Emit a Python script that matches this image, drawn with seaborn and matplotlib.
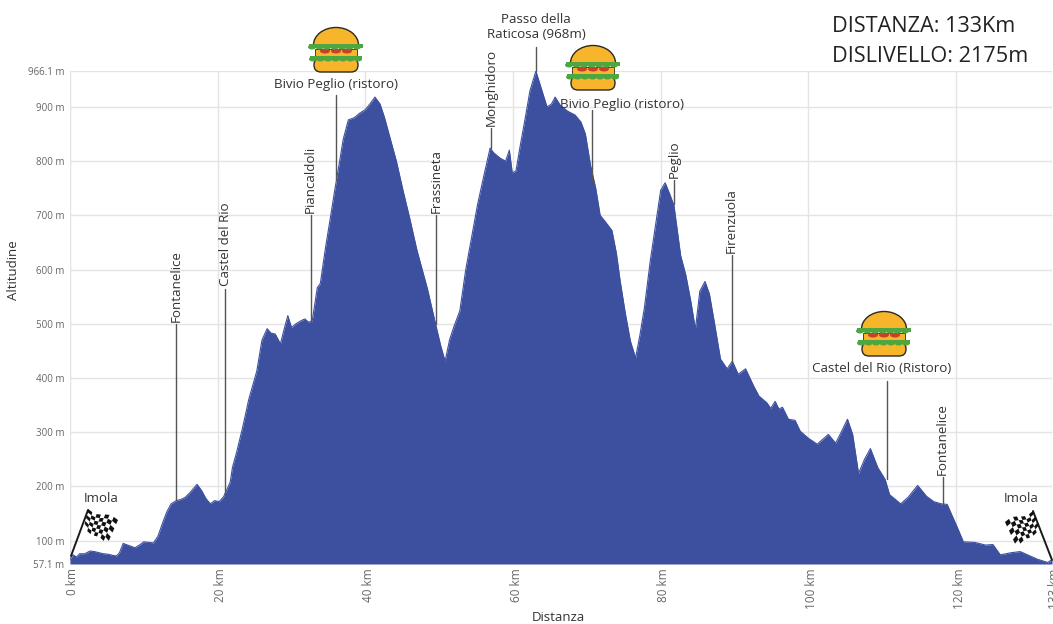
import numpy as np
import pandas as pd
import seaborn as sns
import matplotlib.pyplot as plt
from matplotlib.patches import Ellipse, Polygon, Rectangle, FancyBboxPatch
from matplotlib.transforms import ScaledTranslation

# profilo altimetrico, 10 valori per riga
km = [0, 0.4, 0.9, 1.3, 2, 2.7, 3.3, 3.9, 4.5, 5.2,
      5.8, 6.3, 6.7, 7.2, 7.8, 8.8, 9.4, 10, 10.6, 11.3,
      11.9, 12.6, 13.1, 13.7, 14.4, 15, 15.6, 16.2, 16.7, 17.2,
      17.8, 18.4, 19, 19.6, 20.2, 20.8, 21.7, 22, 22.6, 23.4,
      24.2, 25.3, 26, 26.7, 27.2, 27.8, 28.5, 29, 29.5, 30,
      30.6, 31.2, 31.8, 32.3, 32.8, 33.2, 33.5, 33.9, 34.6, 35.2,
      35.9, 36.4, 37, 37.7, 38.5, 39.2, 40, 40.6, 41.3, 42,
      42.6, 43.2, 44.2, 45.1, 46, 47, 48.4, 49.5, 50.2, 50.8,
      51.4, 52, 52.8, 53.6, 54.4, 55.2, 56, 56.9, 57.4, 58.3,
      59, 59.5, 59.9, 60.4, 61, 61.6, 62.3, 63.1, 63.8, 64.6,
      65.2, 65.7, 66.4, 67.4, 68.4, 69.2, 69.8, 70.5, 71.2, 71.8,
      72.4, 73.4, 74, 74.5, 75.2, 75.9, 76.6, 77.2, 77.8, 78.6,
      79.4, 80, 80.6, 81.2, 81.8, 82.7, 83.4, 84.1, 84.7, 85.3,
      86, 86.6, 87.3, 88.1, 89, 89.7, 90.5, 91.5, 92.6, 93.3,
      94.4, 94.9, 95.5, 96, 96.5, 97.3, 98.2, 98.9, 100, 101.2,
      102.7, 103.7, 104.3, 105.3, 106, 106.8, 107.6, 108.4, 109.4, 110.4,
      111, 112.5, 113.5, 114.8, 116, 117, 118, 118.8, 120, 121,
      122.5, 124, 125, 126, 127.5, 128.7, 130, 131, 132.4, 133]
quota = [65, 74, 70, 76, 76, 81, 80, 78, 76, 75,
         73, 72, 78, 95, 92, 87, 92, 98, 97, 96,
         108, 135, 153, 168, 174, 176, 180, 188, 196, 204,
         193, 178, 168, 174, 172, 181, 208, 235, 265, 310,
         360, 413, 470, 491, 483, 481, 463, 490, 515, 493,
         500, 505, 509, 503, 505, 540, 567, 574, 640, 690,
         750, 790, 840, 876, 880, 888, 895, 905, 918, 905,
         880, 850, 800, 746, 695, 635, 565, 500, 460, 431,
         470, 495, 524, 600, 660, 720, 770, 824, 815, 805,
         800, 820, 778, 782, 830, 875, 930, 966, 935, 900,
         905, 918, 903, 892, 885, 872, 850, 792, 750, 700,
         690, 672, 630, 580, 520, 468, 437, 480, 530, 617,
         690, 746, 760, 740, 718, 626, 590, 540, 490, 560,
         578, 555, 500, 435, 417, 431, 407, 417, 385, 367,
         354, 344, 357, 343, 346, 324, 322, 302, 289, 278,
         296, 280, 296, 324, 296, 224, 250, 270, 235, 213,
         185, 168, 180, 202, 182, 172, 168, 167, 130, 98,
         97, 92, 93, 74, 78, 80, 72, 66, 60, 65]

tick_km = [0, 20, 40, 60, 80, 100, 120, 133]
tick_quota = [57.1, 100, 200, 300, 400, 500, 600, 700, 800, 900, 966.1]
tick_quota_lab = ['57.1 m', '100 m', '200 m', '300 m', '400 m', '500 m', '600 m', '700 m', '800 m', '900 m', '966.1 m']

# localita verticali: nome, km, base e cima della linea in metri
verticali = ['Fontanelice', 'Castel del Rio', 'Piancaldoli', 'Frassineta', 'Monghidoro', 'Peglio', 'Firenzuola', 'Fontanelice']
vert_km = [14.4, 21, 32.6, 49.6, 57, 81.8, 89.6, 118.2]
vert_base = [175, 180, 505, 500, 825, 720, 430, 168]
vert_cima = [500, 565, 700, 700, 861, 765, 626, 218]

# localita orizzontali
orizz = ['Bivio Peglio (ristoro)', 'Passo della\nRaticosa (968m)', 'Bivio Peglio (ristoro)', 'Castel del Rio (Ristoro)']
orizz_km = [36, 63.1, 70.7, 110.6]
orizz_base = [765, 966, 760, 213]
orizz_cima = [922, 1010, 894, 394]
orizz_testo_km = [36, 63.1, 74.7, 109.9]
orizz_testo_m = [930, 1022, 893, 406]

BLU = '#3d50a0'
GRIGIO = '#666666'
TESTO = '#333333'
FS = 9.6

sns.set_theme(style='white')
plt.rcParams['font.family'] = ['Open Sans', 'DejaVu Sans']

df = pd.DataFrame({'km': km, 'quota': quota})

fig = plt.figure(figsize=(10.53, 6.24), dpi=100)
ax = fig.add_axes([70 / 1053, 1 - 564 / 624, 982 / 1053, 493 / 624])
ax.set_xlim(0, 133)
ax.set_ylim(57.1, 966.1)
ax.set_axisbelow(True)
ax.grid(True, color='#e4e4e4', linewidth=1)

ax.fill_between(df['km'], df['quota'], 57.1, color=BLU, linewidth=0, zorder=2)
sns.lineplot(data=df, x='km', y='quota', color=BLU, linewidth=0.8, ax=ax, zorder=2)

ax.set_xticks(tick_km)
ax.set_xticklabels([f'{k} km' for k in tick_km], rotation=90, fontsize=8.5, color=GRIGIO)
ax.set_yticks(tick_quota)
ax.set_yticklabels(tick_quota_lab, fontsize=7, color=GRIGIO)
ax.tick_params(axis='x', length=0, pad=3)
ax.tick_params(axis='y', length=0, pad=4)
# le etichette x stanno centrate sulla griglia
sposta = ScaledTranslation(3 / 100, 0, fig.dpi_scale_trans)
for lab in ax.get_xticklabels():
    lab.set_transform(lab.get_transform() + sposta)
ax.set_xlabel('Distanza', fontsize=9.5, color=TESTO)
ax.set_ylabel('Altitudine', fontsize=9.5, color=TESTO)
ax.xaxis.set_label_coords(0.497, -0.095)
ax.yaxis.set_label_coords(-0.051, 0.596)
for s in ax.spines.values():
    s.set_visible(False)

for nome, k, base, cima in zip(verticali, vert_km, vert_base, vert_cima):
    ax.plot([k, k], [base, cima], color='#555555', linewidth=1, zorder=3, clip_on=False)
    ax.text(k, cima + 4, nome, rotation=90, ha='center', va='bottom', fontsize=FS, color=TESTO, zorder=4)

for k, base, cima in zip(orizz_km, orizz_base, orizz_cima):
    ax.plot([k, k], [base, cima], color='#555555', linewidth=1, zorder=3, clip_on=False)

for nome, k, m in zip(orizz, orizz_testo_km, orizz_testo_m):
    ax.text(k, m, nome, ha='center', va='bottom', fontsize=FS, color=TESTO, linespacing=1.15, clip_on=False, zorder=4)

# livello sopra il grafico in pixel per panini e bandiere
over = fig.add_axes([0, 0, 1, 1])
over.set_xlim(0, 1053)
over.set_ylim(624, 0)
over.axis('off')


def panino(cx, cy):
    bordo = '#2b2b1e'
    giallo = '#f7b52c'
    verde = '#4da63f'
    # pane sotto
    over.add_patch(FancyBboxPatch((cx - 22, cy + 9), 44, 14, boxstyle='round,pad=0,rounding_size=7',
                                  fc=giallo, ec=bordo, lw=1, zorder=5))
    # formaggio e pomodoro
    over.add_patch(Rectangle((cx - 21, cy), 42, 8, fc=giallo, ec=bordo, lw=0.6, zorder=5))
    for dx in (-11, 0, 11):
        over.add_patch(Ellipse((cx + dx, cy + 2), 10, 5, fc='#c9402a', ec='none', zorder=6))
    # pane sopra
    top = Ellipse((cx, cy - 4), 45, 35, fc=giallo, ec=bordo, lw=1, zorder=6)
    over.add_patch(top)
    top.set_clip_path(Rectangle((cx - 25, cy - 23), 50, 19, transform=over.transData))
    # insalata ondulata, due strati
    for yy, mezzo in ((cy - 3, 27), (cy + 9, 26)):
        over.add_patch(Rectangle((cx - mezzo, yy - 2), 2 * mezzo, 3.5, fc=verde, ec='none', zorder=7))
        for dx in np.arange(-mezzo + 3, mezzo, 7.5):
            over.add_patch(Ellipse((cx + dx, yy + 1), 8, 5, fc=verde, ec='none', zorder=7))


def bandiera(asta_base, asta_cima, angoli, n_col=7, n_rig=6):
    # asta e scacchi dentro il quadrilatero degli angoli
    over.plot([asta_base[0], asta_cima[0]], [asta_base[1], asta_cima[1]], color='#1a1a1a', lw=1.4, zorder=6)
    a, b, c, d = [np.array(p, dtype=float) for p in angoli]

    def punto(u, v):
        onda = 2.0 * np.sin(u * 2 * np.pi)
        return (1 - v) * ((1 - u) * a + u * b) + v * ((1 - u) * d + u * c) + np.array([0, onda])

    for i in range(n_col):
        for j in range(n_rig):
            if (i + j) % 2:
                continue
            u0, u1 = i / n_col, (i + 1) / n_col
            v0, v1 = j / n_rig, (j + 1) / n_rig
            over.add_patch(Polygon([punto(u0, v0), punto(u1, v0), punto(u1, v1), punto(u0, v1)],
                                   fc='#111111', ec='none', zorder=6))


for cx, cy in [(336, 49), (593, 67), (884, 333)]:
    panino(cx, cy)

bandiera((71, 556), (88, 510), [(88, 509), (118, 520), (107, 545), (84, 527)])
bandiera((1052, 560), (1033, 511), [(1033, 511), (1005, 522), (1017, 548), (1040, 528)])
over.text(101, 498, 'Imola', ha='center', va='center', fontsize=9.5, color=TESTO)
over.text(1021, 498, 'Imola', ha='center', va='center', fontsize=9.5, color=TESTO)

over.text(832, 26, 'DISTANZA: 133Km', ha='left', va='center', fontsize=15.6, color='#222222')
over.text(832, 57, 'DISLIVELLO: 2175m', ha='left', va='center', fontsize=15.6, color='#222222')

fig.savefig('out.png', dpi=100)
